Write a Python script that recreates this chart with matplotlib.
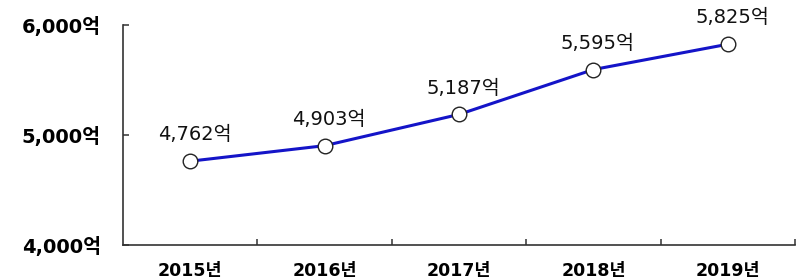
import matplotlib.pyplot as plt
from matplotlib.ticker import FixedLocator

plt.rcParams['font.family'] = ['DejaVu Sans', 'Noto Sans CJK KR']

years = ["2015년", "2016년", "2017년", "2018년", "2019년"]
values = [4762, 4903, 5187, 5595, 5825]
value_labels = ["4,762억", "4,903억", "5,187억", "5,595억", "5,825억"]
y_ticks = [4000, 5000, 6000]
y_tick_labels = ["4,000억", "5,000억", "6,000억"]


def graph_plot():
    fig = plt.figure(figsize=(7.96, 2.79), dpi=100)
    ax = fig.add_axes([123 / 796, 34 / 279, 672 / 796, 220 / 279])

    x = list(range(len(years)))
    ax.plot(x, values, color="#1414c8", linewidth=2.2, zorder=2)
    ax.plot(x, values, linestyle="none", marker="o", markersize=10.5,
            markerfacecolor="white", markeredgecolor="#222222",
            markeredgewidth=1.0, zorder=3)

    for xi, v, lab in zip(x, values, value_labels):
        ax.annotate(lab, (xi, v), xytext=(3, 19), textcoords="offset points",
                    ha="center", va="center", fontsize=14, color="#111111")

    ax.set_xlim(-0.5, len(years) - 0.5)
    ax.set_ylim(4000, 6000)

    ax.set_xticks(x)
    ax.set_xticklabels(years, fontsize=12.5, fontweight="heavy")
    ax.xaxis.set_minor_locator(FixedLocator([i + 0.5 for i in x]))
    ax.tick_params(axis="x", which="major", length=0, pad=12)
    ax.tick_params(axis="x", which="minor", direction="in", length=4,
                   width=1.1, color="#333333")

    ax.set_yticks(y_ticks)
    ax.set_yticklabels(y_tick_labels, fontsize=14, fontweight="heavy")
    ax.tick_params(axis="y", direction="in", length=4, width=1.1,
                   color="#333333", pad=16)

    for side in ["top", "right"]:
        ax.spines[side].set_visible(False)
    for side in ["left", "bottom"]:
        ax.spines[side].set_color("#333333")
        ax.spines[side].set_linewidth(1.2)

    fig.savefig("out.png", dpi=100)


if __name__ == "__main__":
    graph_plot()
